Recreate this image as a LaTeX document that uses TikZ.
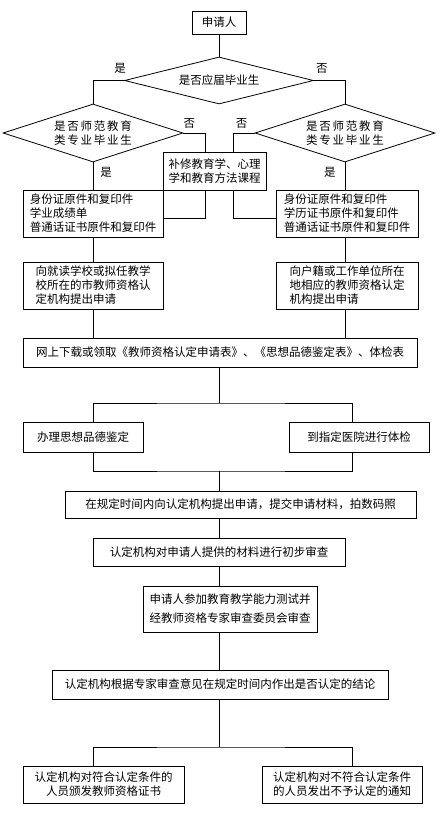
\documentclass[tikz,border=0pt]{standalone}
\usepackage{fontspec}
\newfontfamily\cjk{Noto Sans CJK SC}
\newfontfamily\cjkwide[LetterSpace=15]{Noto Sans CJK SC}
\usetikzlibrary{positioning,shapes.geometric}

\begin{document}
\begin{tikzpicture}[x=1pt,y=-1pt,line width=0.8pt,
  box/.style={draw,inner sep=0pt,align=center,
              font=\cjk\fontsize{11.5}{14}\selectfont},
  lbox/.style={box,align=left},
  dia/.style={draw,diamond,aspect=3,inner sep=0pt,align=center,
              font=\cjk\fontsize{11.5}{14}\selectfont},
  lbl/.style={inner sep=0pt,font=\cjk\fontsize{11.5}{14}\selectfont}]
  \useasboundingbox (0,0) rectangle (439,813);

  \node[box,minimum width=54pt,minimum height=23pt] (app) at (219,22.5)
        {申请人};
  \node[dia,minimum width=189pt,minimum height=47pt] (grad) at (219,80.5)
        {是否应届毕业生};
  \node[dia,minimum width=180pt,minimum height=58pt,
        font=\cjkwide\fontsize{11.5}{14}\selectfont] (normL) at (93,133)
        {是否师范教育\\类专业毕业生};
  \node[dia,minimum width=180pt,minimum height=58pt,
        font=\cjkwide\fontsize{11.5}{14}\selectfont] (normR) at (345,133)
        {是否师范教育\\类专业毕业生};
  \node[box,minimum width=103pt,minimum height=38pt] (extra) at (214.5,171)
        {补修教育学、心理\\学和教育方法课程};
  \node[lbox,minimum width=140pt,minimum height=47pt] (docsL) at (93,213.5)
        {身份证原件和复印件\\学业成绩单\\普通话证书原件和复印件};
  \node[lbox,minimum width=142pt,minimum height=47pt] (docsR) at (347,213.5)
        {身份证原件和复印件\\学历证书原件和复印件\\普通话证书原件和复印件};
  \node[lbox,minimum width=140pt,minimum height=47pt] (applyL) at (93,285.5)
        {向就读学校或拟任教学\\校所在的市教师资格认\\定机构提出申请};
  \node[lbox,minimum width=142pt,minimum height=47pt] (applyR) at (347,285.5)
        {向户籍或工作单位所在\\地相应的教师资格认定\\机构提出申请};
  \node[box,minimum width=394pt,minimum height=29pt] (forms) at (220,352.5)
        {网上下载或领取《教师资格认定申请表》、《思想品德鉴定表》、体检表};
  \node[box,minimum width=120pt,minimum height=30pt] (moral) at (83,437)
        {办理思想品德鉴定};
  \node[box,minimum width=140pt,minimum height=30pt] (health) at (359,437)
        {到指定医院进行体检};
  \node[box,minimum width=351pt,minimum height=27pt] (submit) at (240.5,504.5)
        {在规定时间内向认定机构提出申请，提交申请材料，拍数码照};
  \node[box,minimum width=252pt,minimum height=28pt] (check) at (219,552)
        {认定机构对申请人提供的材料进行初步审查};
  \node[box,minimum width=174pt,minimum height=46pt,
        font=\cjk\fontsize{11.5}{19}\selectfont] (exam) at (230,609)
        {申请人参加教育教学能力测试并\\经教师资格专家审查委员会审查};
  \node[box,minimum width=336pt,minimum height=29pt] (verdict) at (220,684.5)
        {认定机构根据专家审查意见在规定时间内作出是否认定的结论};
  \node[box,minimum width=161pt,minimum height=37pt] (grant) at (103.5,784.5)
        {认定机构对符合认定条件的\\人员颁发教师资格证书};
  \node[box,minimum width=160pt,minimum height=37pt] (deny) at (342,784.5)
        {认定机构对不符合认定条件\\的人员发出不予认定的通知};

  \coordinate (colL) at (93,0);
  \coordinate (colR) at (352,0);
  \coordinate (fork1) at (219,403);
  \coordinate (join1) at (219,471);
  \coordinate (fork2) at (219,747);

  \draw (app.south) -- (grad.north);
  \draw (grad.west) node[lbl,above=7pt,xshift=-4pt] {是} -| (normL.north);
  \draw (grad.east) node[lbl,above=7pt,xshift=8pt] {否} -| (normR.north);
  \draw (normL.east) node[lbl,above=4pt,xshift=6pt] {否}
        -| ([xshift=-9.5pt]extra.north);
  \draw (normR.west) node[lbl,above=4pt,xshift=-13pt] {否}
        -| ([xshift=18.5pt]extra.north);
  \draw ([xshift=-9.5pt]extra.south) |- ([yshift=-4.5pt]docsL.east);
  \draw ([xshift=18.5pt]extra.south) |- ([yshift=-4.5pt]docsR.west);
  \draw (normL.south) -- node[lbl,pos=0.35,right=7pt] {是} (docsL.north);
  \draw (normR.south) -- node[lbl,pos=0.35,left=9pt] {是}
        (normR.south |- docsR.north);
  \draw (docsL.south) -- (applyL.north);
  \draw (normR.south |- docsR.south) -- (normR.south |- applyR.north);
  \draw (applyL.south) -- (applyL.south |- forms.north);
  \draw (normR.south |- applyR.south) -- (normR.south |- forms.north);
  \draw (fork1 |- forms.south) -- (fork1);
  \draw (colL |- moral.north) |- (fork1) -| (colR |- health.north);
  \draw (colL |- moral.south) |- (join1) -| (colR |- health.south);
  \draw (join1) -- (join1 |- submit.north);
  \draw (check.north |- submit.south) -- (check.north);
  \draw (check.south) -- (check.south |- exam.north);
  \draw (check.south |- exam.south) -- (check.south |- verdict.north);
  \draw (fork2 |- verdict.south) -- (fork2);
  \draw (colL |- grant.north) |- (fork2) -| (colR |- deny.north);
\end{tikzpicture}
\end{document}
